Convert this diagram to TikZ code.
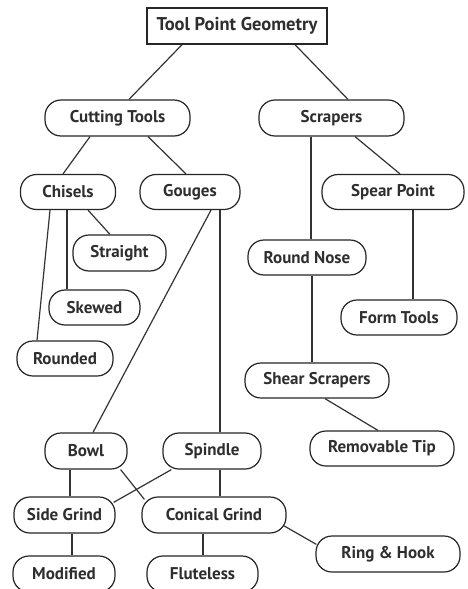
\documentclass[tikz,border=0pt]{standalone}
\usepackage{fontspec}
\setmainfont{PT Sans}
\begin{document}
\begin{tikzpicture}[x=1pt,y=-1pt,
  box/.style={draw=black!85,line width=1.2pt,rounded corners=16pt,inner sep=0pt,
    font=\fontsize{17}{19}\selectfont\bfseries,text=black!82},
  topbox/.style={draw=black!85,line width=1.3pt,inner sep=0pt,
    font=\fontsize{18.5}{20}\selectfont\bfseries,text=black!82},
  link/.style={draw=black!80,line width=1.2pt}]
\clip (0,0) rectangle (468,589);
\fill[white] (0,0) rectangle (468,589);
\node[topbox,minimum width=180pt,minimum height=36pt] (title) at (237,26) {Tool Point Geometry};
\node[box,minimum width=145pt,minimum height=36pt] (ct) at (117.5,118) {Cutting Tools};
\node[box,minimum width=145pt,minimum height=36pt] (scr) at (331.5,118) {Scrapers};
\node[box,minimum width=95pt,minimum height=35pt] (chi) at (68,192) {Chisels};
\node[box,minimum width=100pt,minimum height=35pt] (gou) at (190,192) {Gouges};
\node[box,minimum width=142pt,minimum height=35pt] (spe) at (393,192) {Spear Point};
\node[box,minimum width=93pt,minimum height=36pt] (str) at (119.5,253) {Straight};
\node[box,minimum width=118pt,minimum height=35pt] (rn) at (307,257.5) {Round Nose};
\node[box,minimum width=91pt,minimum height=35pt] (ske) at (94.5,307.5) {Skewed};
\node[box,minimum width=116pt,minimum height=35pt] (ft) at (399,317.5) {Form Tools};
\node[box,minimum width=96pt,minimum height=35pt] (rou) at (65,358.5) {Rounded};
\node[box,minimum width=144pt,minimum height=35pt] (she) at (317,380.5) {Shear Scrapers};
\node[box,minimum width=82pt,minimum height=36pt] (bow) at (86,451) {Bowl};
\node[box,minimum width=98pt,minimum height=36pt] (spi) at (212,451) {Spindle};
\node[box,minimum width=144pt,minimum height=35pt] (rem) at (382,448.5) {Removable Tip};
\node[box,minimum width=101pt,minimum height=36pt] (sid) at (64.5,515) {Side Grind};
\node[box,minimum width=144pt,minimum height=36pt] (con) at (214,515) {Conical Grind};
\node[box,minimum width=144pt,minimum height=36pt] (rin) at (388,554) {Ring \& Hook};
\node[box,minimum width=102pt,minimum height=36pt] (mod) at (64,574) {Modified};
\node[box,minimum width=111pt,minimum height=36pt] (flu) at (202.5,574) {Fluteless};
\draw[link] ([xshift=-55pt]title.south) -- ([xshift=11.5pt]ct.north);
\draw[link] ([xshift=58pt]title.south) -- ([xshift=16.5pt]scr.north);
\draw[link] ([xshift=-27.5pt]ct.south) -- ([xshift=-5pt]chi.north);
\draw[link] ([xshift=30.5pt]ct.south) -- ([xshift=-4pt]gou.north);
\draw[link] ([xshift=-20.5pt]scr.south) -- ([xshift=4pt]rn.north);
\draw[link] ([xshift=23.5pt]scr.south) -- ([xshift=7pt]spe.north);
\draw[link] ([xshift=-18pt]chi.south) -- ([xshift=-28pt]rou.north);
\draw[link] ([xshift=-1pt]chi.south) -- ([xshift=-27.5pt]ske.north);
\draw[link] ([xshift=20pt]chi.south) -- ([xshift=-9.5pt]str.north);
\draw[link] ([xshift=21pt]gou.south) -- ([xshift=7pt]bow.north);
\draw[link] ([xshift=30pt]gou.south) -- ([xshift=8pt]spi.north);
\draw[link] ([xshift=20pt]spe.south) -- ([xshift=14pt]ft.north);
\draw[link] ([xshift=5pt]rn.south) -- ([xshift=-5pt]she.north);
\draw[link] ([xshift=8pt]she.south) -- ([xshift=-4pt]rem.north);
\draw[link] ([xshift=-16pt]bow.south) -- ([xshift=5.5pt]sid.north);
\draw[link] ([xshift=-7pt]bow.south east) -- ([xshift=3pt,yshift=-3pt]con.north west);
\draw[link] ([xshift=9pt]spi.south west) -- ([xshift=-2pt,yshift=-6pt]sid.north east);
\draw[link] ([xshift=8pt]spi.south) -- ([xshift=6pt]con.north);
\draw[link] ([xshift=-3pt,yshift=8pt]con.south east) -- ([xshift=1pt,yshift=-9pt]rin.north west);
\draw[link] ([xshift=7.5pt]sid.south) -- ([xshift=8pt]mod.north);
\draw[link] ([xshift=-11pt]con.south) -- ([xshift=0.5pt]flu.north);
\end{tikzpicture}
\end{document}
